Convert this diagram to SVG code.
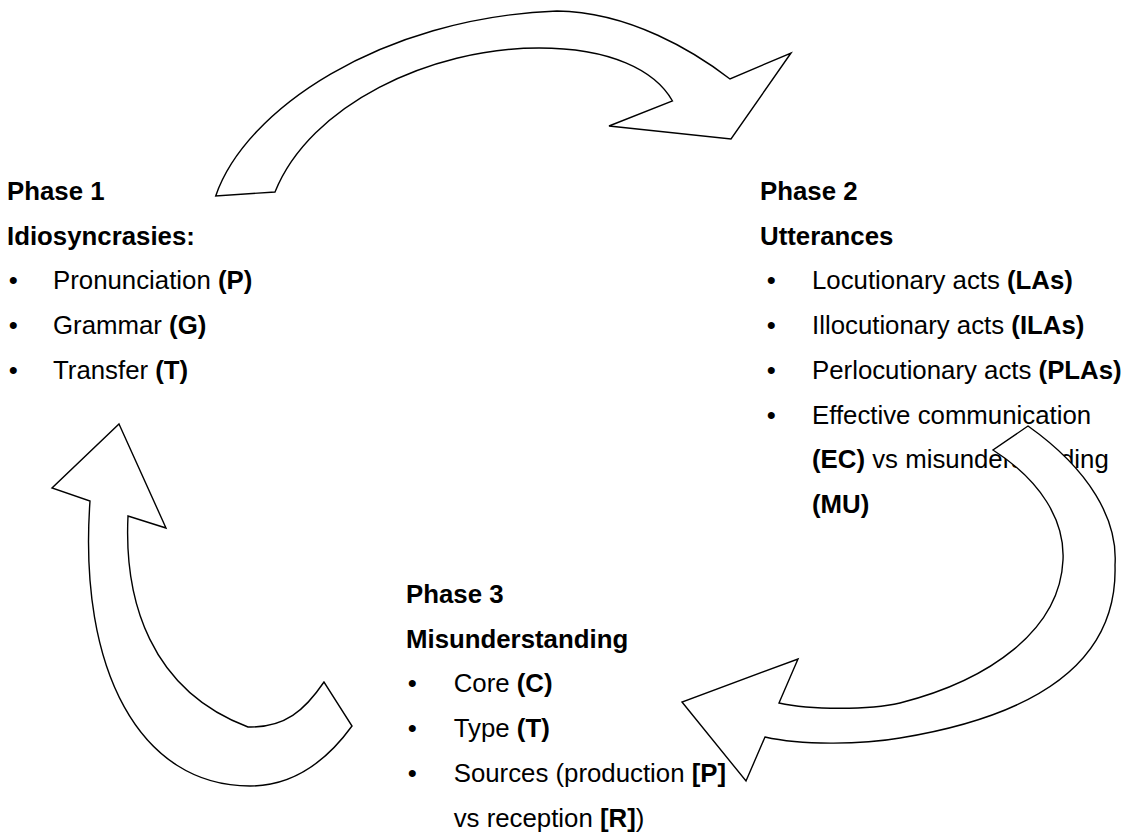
<svg xmlns="http://www.w3.org/2000/svg" width="1131" height="833" viewBox="0 0 1131 833">
<style>
  text { font-family: "Liberation Sans", Arial, sans-serif; font-size: 25.8px; fill: #000; }
  .h { font-weight: bold; }
  .b { font-weight: bold; }
  .arrow { fill: #fff; stroke: #000; stroke-width: 1.4; stroke-linejoin: miter; }
</style>
<rect x="0" y="0" width="1131" height="833" fill="#fff"/>

<g id="phase1">
  <text class="h" x="7" y="200">Phase 1</text>
  <text class="h" x="7" y="244.7">Idiosyncrasies:</text>
  <text x="8.7" y="289.4">•</text>
  <text x="53" y="289.4">Pronunciation <tspan class="b">(P)</tspan></text>
  <text x="8.7" y="334.1">•</text>
  <text x="53" y="334.1">Grammar <tspan class="b">(G)</tspan></text>
  <text x="8.7" y="378.8">•</text>
  <text x="53" y="378.8">Transfer <tspan class="b">(T)</tspan></text>
</g>

<g id="phase2">
  <text class="h" x="760" y="200">Phase 2</text>
  <text class="h" x="760" y="244.7">Utterances</text>
  <text x="766.7" y="289.4">•</text>
  <text x="812" y="289.4">Locutionary acts <tspan class="b">(LAs)</tspan></text>
  <text x="766.7" y="334.1">•</text>
  <text x="812" y="334.1">Illocutionary acts <tspan class="b">(ILAs)</tspan></text>
  <text x="766.7" y="378.8">•</text>
  <text x="812" y="378.8">Perlocutionary acts <tspan class="b">(PLAs)</tspan></text>
  <text x="766.7" y="423.5">•</text>
  <text x="812" y="423.5">Effective communication</text>
  <text x="812" y="468.2"><tspan class="b">(EC)</tspan> vs misunderstanding</text>
  <text x="812" y="512.9"><tspan class="b">(MU)</tspan></text>
</g>

<g id="phase3">
  <text class="h" x="406" y="603">Phase 3</text>
  <text class="h" x="406" y="647.7">Misunderstanding</text>
  <text x="407.7" y="692.4">•</text>
  <text x="453.7" y="692.4">Core <tspan class="b">(C)</tspan></text>
  <text x="407.7" y="737.1">•</text>
  <text x="453.7" y="737.1">Type <tspan class="b">(T)</tspan></text>
  <text x="407.7" y="781.8">•</text>
  <text x="453.7" y="781.8">Sources (production <tspan class="b">[P]</tspan></text>
  <text x="453.7" y="826.5">vs reception <tspan class="b">[R]</tspan>)</text>
</g>

<g id="connectors">
  <path id="arrow-1-2" class="arrow" d="M215.7,196 C245,110 380,18 557,11 C630,12 695,52 730,79 L791,53 L731,139 L609,126 L672.5,101 C655,70 610,48 539,48 C430,48 310,105 275,192 Z"/>
  <path id="arrow-2-3" class="arrow" d="M1028,426 C1090,470 1118,520 1115,565 C1118,660 1040,715 900,738 C860,745 800,745 765,737 L746,781 L682,702 L798,659 L779,703 C810,710 870,710 900,703 C990,680 1060,630 1063,560 C1065,520 1040,480 993,450 Z"/>
  <path id="arrow-3-1" class="arrow" d="M119,424 L166,528 L128,516 C124,600 150,690 248,727 C285,728 305,710 324,682 L352,726 C320,770 285,786 250,786 C140,786 78,670 90,501 L52,488 Z"/>
</g>
</svg>
